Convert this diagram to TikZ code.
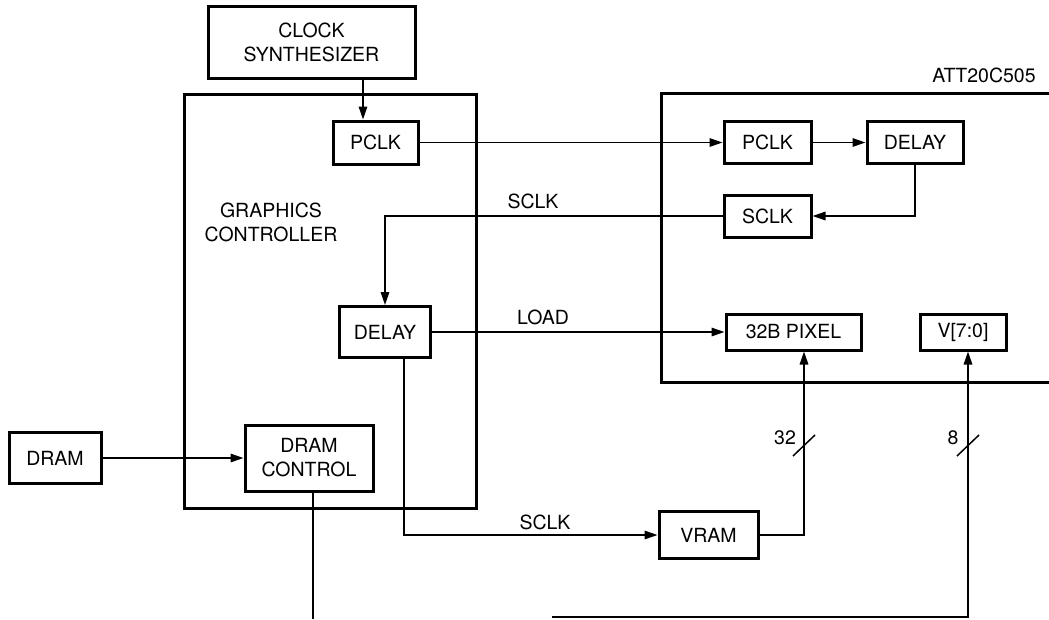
\documentclass[tikz,border=0pt]{standalone}
\usepackage{fontspec}
\setmainfont{TeX Gyre Heros}
\usetikzlibrary{positioning, arrows.meta}

\begin{document}
\begin{tikzpicture}[
    x=1pt, y=-1pt,
    every node/.style={font=\fontsize{19.5}{24}\selectfont},
    box/.style={draw, line width=3pt, inner sep=0pt, align=center},
    frame/.style={line width=3pt},
    arr/.style={-{Triangle[length=13pt, width=8.5pt]}, line width=1.5pt},
    wire/.style={line width=1.5pt}]
    \useasboundingbox (0,0) rectangle (1049,619);
    % graphics controller side
    \node[box, minimum width=207pt, minimum height=72pt] (clock) at (311.5,42) {CLOCK\\SYNTHESIZER};
    \node[box, minimum width=292pt, minimum height=414pt] (gc) at (330,301) {};
    \node[align=center] (gclabel) at (271,222) {GRAPHICS\\CONTROLLER};
    \node[box, minimum width=85pt, minimum height=43pt] (pclkA) at (375.5,142.5) {PCLK};
    \node[box, minimum width=91pt, minimum height=51pt] (delayA) at (385,332) {DELAY};
    \node[box, minimum width=128pt, minimum height=66pt] (dramctl) at (309,458) {DRAM\\CONTROL};
    \node[box, minimum width=92pt, minimum height=51pt] (dram) at (55,458) {DRAM};
    % ATT20C505 side
    \draw[frame] (1049,93) -- (661,93) -- (661,382) -- (1049,382);
    \node (attlabel) at (984,75) {ATT20C505};
    \node[box, minimum width=87pt, minimum height=42pt] (pclkB) at (767.5,142.5) {PCLK};
    \node[box, minimum width=96pt, minimum height=42pt] (delayB) at (915,142.5) {DELAY};
    \node[box, minimum width=87pt, minimum height=42pt] (sclkB) at (767.5,216) {SCLK};
    \node[box, minimum width=135pt, minimum height=36pt] (pixel) at (793.5,332) {32B PIXEL};
    \node[box, minimum width=86pt, minimum height=36pt] (vbus) at (963,332) {V[7:0]};
    \node[box, minimum width=99pt, minimum height=47pt] (vram) at (708.5,535) {VRAM};
    % taps and free ends
    \coordinate (tapA) at (363,0);
    \coordinate (tapD) at (404,0);
    \coordinate (tapB) at (804,0);
    \coordinate (tapC) at (968,0);
    \coordinate (ctlend) at (313,619);
    \coordinate (busstart) at (552,617);
    % connectors
    \draw[arr] (clock.south -| tapA) -- (pclkA.north -| tapA);
    \draw[arr] (pclkA) -- (pclkB);
    \draw[arr] (pclkB) -- (delayB);
    \draw[arr] (delayB.south) |- (sclkB.east);
    \draw[arr] (sclkB.west) -| (delayA.north);
    \draw[arr] (delayA) -- (pixel);
    \draw[arr] (delayA.south -| tapD) |- (vram.west);
    \draw[arr] (vram.east) -| (pixel.south -| tapB);
    \draw[arr] (dram) -- (dramctl);
    \draw[wire] (dramctl.south -| ctlend) -- (ctlend);
    \draw[arr] (busstart) -| (vbus.south -| tapC);
    % labels and bus widths
    \node (sclkup) at (533,201) {SCLK};
    \node (load) at (543,317) {LOAD};
    \node (sclklow) at (545,522) {SCLK};
    \draw[wire] (793,456) -- (815,435);
    \node (w32) at (785,438) {32};
    \draw[wire] (957,456) -- (979,435);
    \node (w8) at (953,438) {8};
\end{tikzpicture}
\end{document}
